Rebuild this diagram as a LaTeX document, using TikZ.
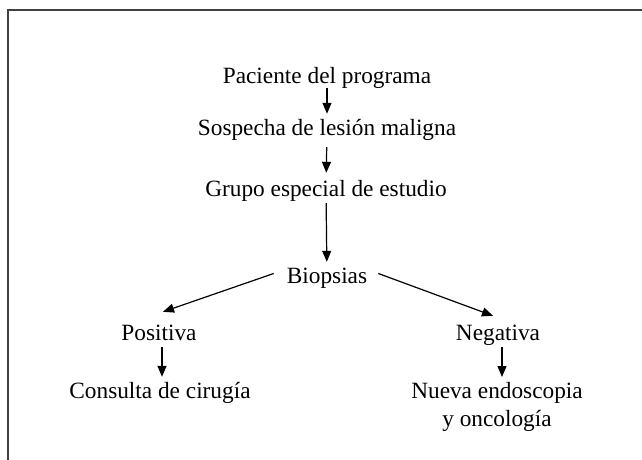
\documentclass[tikz,border=0pt]{standalone}
\usepackage{fontspec}
\setmainfont{Liberation Serif}
\usetikzlibrary{arrows.meta,positioning}

\begin{document}
\begin{tikzpicture}[
    x=1pt, y=-1pt,
    font=\fontsize{23.3}{28}\selectfont,
    base/.style={inner sep=0pt, anchor=base, text height=16pt, text depth=5pt},
    twoline/.style={inner sep=0pt, anchor=north, align=center},
    dep/.style={black, line width=1.2pt, -{Triangle[width=9pt,length=11pt]},
                shorten <=2pt, shorten >=5pt},
    diag/.style={dep, shorten <=0pt, shorten >=0pt},
    frame/.style={black!75, line width=2pt}
  ]
  \useasboundingbox (0,0) rectangle (642,460);

  % open frame, only left and top edges show
  \coordinate (fbot)   at (8,460);
  \coordinate (fright) at (642,10);
  \draw[frame] (fbot) |- (fright);

  \node (pac)   [base] at (327,83)   {Paciente del programa};
  \node (sos)   [base] at (327,135)  {Sospecha de lesión maligna};
  \node (grp)   [base] at (326,196)  {Grupo especial de estudio};
  \node (biop)  [base] at (327,283)  {Biopsias};

  \node (pos)   [base] at (159,340)  {Positiva};
  \node (neg)   [base] at (498,340)  {Negativa};

  \node (con)   [base] at (160,398)  {Consulta de cirugía};
  \node (nue)   [twoline] at (497,382) {Nueva endoscopia\\
                                        y oncología};

  \draw[dep]  (pac)  edge [shorten <=0pt]              (sos)
              (sos)  edge [shorten <=7pt, shorten >=7pt] (grp)
              (grp)  edge                              (biop);

  \draw[diag] ([xshift=-13pt,yshift=4pt]biop.west)
                -- ([xshift=4pt,yshift=12pt]pos.north);
  \draw[diag] ([xshift=11pt,yshift=4pt]biop.east)
                -- ([xshift=-5pt,yshift=8pt]neg.north);

  \coordinate (ps) at ([xshift=3pt]pos.south);
  \coordinate (ns) at ([xshift=4pt]neg.south);
  \draw[dep]  (ps) -- (ps |- con.north);
  \draw[dep]  (ns) -- (ns |- nue.north);
\end{tikzpicture}
\end{document}
